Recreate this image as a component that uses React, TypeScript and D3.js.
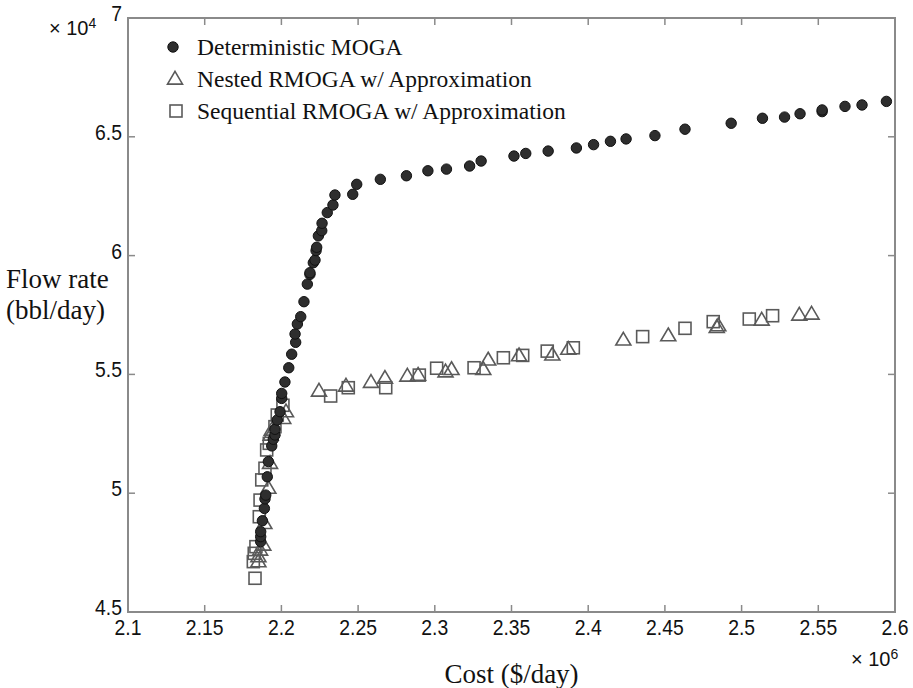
import React, { useEffect, useRef } from 'react';
import * as d3 from 'd3';

// cost in 1e6 $/day, flow rate in 1e4 bbl/day
const deterministicCost = [
  2.1865, 2.1865, 2.1865, 2.1876, 2.1889, 2.1893, 2.1898, 2.1908, 2.1915, 2.1937, 2.1947, 2.1958,
  2.1958, 2.1973, 2.1991, 2.2002, 2.2002, 2.2023, 2.2048, 2.2067, 2.2093, 2.2089, 2.2104, 2.2126,
  2.2147, 2.2169, 2.2186, 2.2186, 2.2208, 2.2219, 2.2226, 2.223, 2.2241, 2.2263, 2.2265, 2.2299,
  2.2336, 2.2349, 2.2465, 2.2491, 2.2645, 2.2815, 2.2955, 2.3076, 2.3227, 2.3302, 2.3516, 2.3593,
  2.3739, 2.3923, 2.4035, 2.4145, 2.4247, 2.4435, 2.4631, 2.4932, 2.5136, 2.528, 2.5381, 2.5525,
  2.5525, 2.5674, 2.5785, 2.5944,
];
const deterministicFlow = [
  4.796, 4.817, 4.838, 4.884, 4.936, 4.976, 4.992, 5.069, 5.133, 5.199, 5.227, 5.245,
  5.269, 5.308, 5.343, 5.399, 5.42, 5.468, 5.528, 5.585, 5.635, 5.67, 5.712, 5.743,
  5.806, 5.88, 5.921, 5.928, 5.97, 5.981, 6.021, 6.035, 6.083, 6.105, 6.136, 6.181,
  6.213, 6.255, 6.258, 6.3, 6.321, 6.336, 6.357, 6.364, 6.377, 6.398, 6.419, 6.43,
  6.44, 6.453, 6.467, 6.481, 6.491, 6.505, 6.532, 6.557, 6.578, 6.583, 6.597, 6.606,
  6.613, 6.628, 6.634, 6.649,
];

const nestedCost = [
  2.185, 2.185, 2.1861, 2.1882, 2.1889, 2.1915, 2.1926, 2.193, 2.1937, 2.2012, 2.203,
  2.2245, 2.2421, 2.2584, 2.2675, 2.2821, 2.2891, 2.307, 2.3109, 2.3316, 2.3348, 2.3549,
  2.3766, 2.387, 2.4229, 2.4522, 2.4838, 2.4848, 2.5131, 2.5376, 2.5456,
];
const nestedFlow = [
  4.712, 4.733, 4.761, 4.782, 4.873, 5.021, 5.126, 5.245, 5.266, 5.315, 5.343,
  5.43, 5.451, 5.467, 5.484, 5.493, 5.497, 5.511, 5.521, 5.521, 5.561, 5.579,
  5.582, 5.606, 5.645, 5.663, 5.698, 5.705, 5.729, 5.75, 5.754,
];

const sequentialCost = [
  2.1828, 2.1817, 2.1823, 2.1834, 2.1856, 2.1861, 2.1872, 2.1893, 2.1904, 2.1921, 2.1958, 2.1973,
  2.201, 2.2321, 2.2436, 2.268, 2.2899, 2.3012, 2.3256, 2.3447, 2.3573, 2.3733, 2.3903, 2.4355,
  2.4631, 2.4815, 2.505, 2.5202,
];
const sequentialFlow = [
  4.642, 4.712, 4.747, 4.775, 4.901, 4.971, 5.056, 5.105, 5.182, 5.21, 5.28, 5.329,
  5.37, 5.409, 5.444, 5.444, 5.497, 5.526, 5.528, 5.57, 5.58, 5.598, 5.612, 5.659,
  5.694, 5.722, 5.733, 5.747,
];

const xTicks = [2.1, 2.15, 2.2, 2.25, 2.3, 2.35, 2.4, 2.45, 2.5, 2.55, 2.6];
const xTickLabels = ['2.1', '2.15', '2.2', '2.25', '2.3', '2.35', '2.4', '2.45', '2.5', '2.55', '2.6'];
const yTicks = [4.5, 5, 5.5, 6, 6.5, 7];
const yTickLabels = ['4.5', '5', '5.5', '6', '6.5', '7'];

const legendLabels = [
  'Deterministic MOGA',
  'Nested RMOGA w/ Approximation',
  'Sequential RMOGA w/ Approximation',
];

export default function App() {
  const svgRef = useRef<SVGSVGElement | null>(null);

  useEffect(() => {
    if (!svgRef.current) return;
    const W = 913;
    const H = 688;
    const svg = d3.select(svgRef.current);
    svg.selectAll('*').remove();
    svg.attr('width', W).attr('height', H);

    const left = 128, right = 895, top = 18, bottom = 612;
    const x = d3.scaleLinear().domain([2.1, 2.6]).range([left, right]);
    const y = d3.scaleLinear().domain([4.5, 7]).range([bottom, top]);

    const axisColor = '#8a8a8a';
    const markerStroke = '#5a5a5a';
    const serif = '"Liberation Serif", "Times New Roman", serif';
    const sans = '"Liberation Sans", Arial, sans-serif';

    // 1. FRAME + INWARD TICKS
    svg.append('rect')
      .attr('x', left).attr('y', top)
      .attr('width', right - left).attr('height', bottom - top)
      .attr('fill', 'none').attr('stroke', axisColor).attr('stroke-width', 2);

    const tl = 7;
    xTicks.forEach((t) => {
      svg.append('line').attr('x1', x(t)).attr('x2', x(t)).attr('y1', bottom).attr('y2', bottom - tl)
        .attr('stroke', axisColor).attr('stroke-width', 1.5);
      svg.append('line').attr('x1', x(t)).attr('x2', x(t)).attr('y1', top).attr('y2', top + tl)
        .attr('stroke', axisColor).attr('stroke-width', 1.5);
    });
    yTicks.forEach((t) => {
      svg.append('line').attr('x1', left).attr('x2', left + tl).attr('y1', y(t)).attr('y2', y(t))
        .attr('stroke', axisColor).attr('stroke-width', 1.5);
      svg.append('line').attr('x1', right).attr('x2', right - tl).attr('y1', y(t)).attr('y2', y(t))
        .attr('stroke', axisColor).attr('stroke-width', 1.5);
    });

    // 2. TICK LABELS (slightly condensed sans, like the original)
    svg.append('g').selectAll('text').data(xTicks).join('text')
      .attr('transform', (d) => `translate(${x(d)},${bottom + 23}) scale(0.88,1)`)
      .attr('text-anchor', 'middle')
      .attr('font-family', sans).attr('font-size', 22).attr('fill', '#111')
      .text((d, i) => xTickLabels[i]);

    svg.append('g').selectAll('text').data(yTicks).join('text')
      .attr('transform', (d) => `translate(${left - 6},${y(d) + 3}) scale(0.88,1)`)
      .attr('text-anchor', 'end')
      .attr('font-family', sans).attr('font-size', 22).attr('fill', '#111')
      .text((d, i) => yTickLabels[i]);

    // exponent labels
    const e4 = svg.append('text').attr('x', 49).attr('y', 35)
      .attr('font-family', sans).attr('font-size', 20).attr('fill', '#111');
    e4.append('tspan').text('× 10');
    e4.append('tspan').attr('font-size', 14).attr('dy', -7).text('4');

    const e6 = svg.append('text').attr('x', 851).attr('y', 666)
      .attr('font-family', sans).attr('font-size', 20).attr('fill', '#111');
    e6.append('tspan').text('× 10');
    e6.append('tspan').attr('font-size', 14).attr('dy', -7).text('6');

    // 3. AXIS TITLES
    svg.append('text').attr('x', (left + right) / 2).attr('y', 683)
      .attr('text-anchor', 'middle')
      .attr('font-family', serif).attr('font-size', 27).attr('fill', '#111')
      .text('Cost ($/day)');
    svg.append('text').attr('x', 6).attr('y', 288)
      .attr('font-family', serif).attr('font-size', 27).attr('fill', '#111')
      .text('Flow rate');
    svg.append('text').attr('x', 6).attr('y', 319)
      .attr('font-family', serif).attr('font-size', 27).attr('fill', '#111')
      .text('(bbl/day)');

    // 4. MARKERS
    const triPath = (cx: number, cy: number, s: number) => {
      const h = s * 0.85;
      return `M${cx},${cy - h * 0.6}L${cx + s / 2},${cy + h * 0.4}L${cx - s / 2},${cy + h * 0.4}Z`;
    };
    const drawCircle = (g: any, cx: number, cy: number) =>
      g.append('circle').attr('cx', cx).attr('cy', cy).attr('r', 5.2)
        .attr('fill', '#2e2e2e').attr('stroke', '#111').attr('stroke-width', 1);
    const drawTri = (g: any, cx: number, cy: number) =>
      g.append('path').attr('d', triPath(cx, cy, 15))
        .attr('fill', 'none').attr('stroke', markerStroke).attr('stroke-width', 1.6);
    const drawSq = (g: any, cx: number, cy: number) =>
      g.append('rect').attr('x', cx - 6).attr('y', cy - 6).attr('width', 12).attr('height', 12)
        .attr('fill', 'none').attr('stroke', markerStroke).attr('stroke-width', 1.6);

    const plot = svg.append('g');
    sequentialCost.forEach((c, i) => drawSq(plot, x(c), y(sequentialFlow[i])));
    nestedCost.forEach((c, i) => drawTri(plot, x(c), y(nestedFlow[i])));
    deterministicCost.forEach((c, i) => drawCircle(plot, x(c), y(deterministicFlow[i])));

    // 5. LEGEND
    const legend = svg.append('g');
    const rows = [47, 79, 111];
    drawCircle(legend, 173, rows[0]);
    drawTri(legend, 175, rows[1]);
    drawSq(legend, 176, rows[2]);
    legendLabels.forEach((lab, i) => {
      legend.append('text').attr('x', 197).attr('y', rows[i] + 8)
        .attr('font-family', serif).attr('font-size', 23.5).attr('fill', '#111')
        .text(lab);
    });
  }, []);

  return (
    <svg
      ref={svgRef}
      style={{ position: 'absolute', left: 0, top: 0, display: 'block', background: '#fff' }}
    />
  );
}
